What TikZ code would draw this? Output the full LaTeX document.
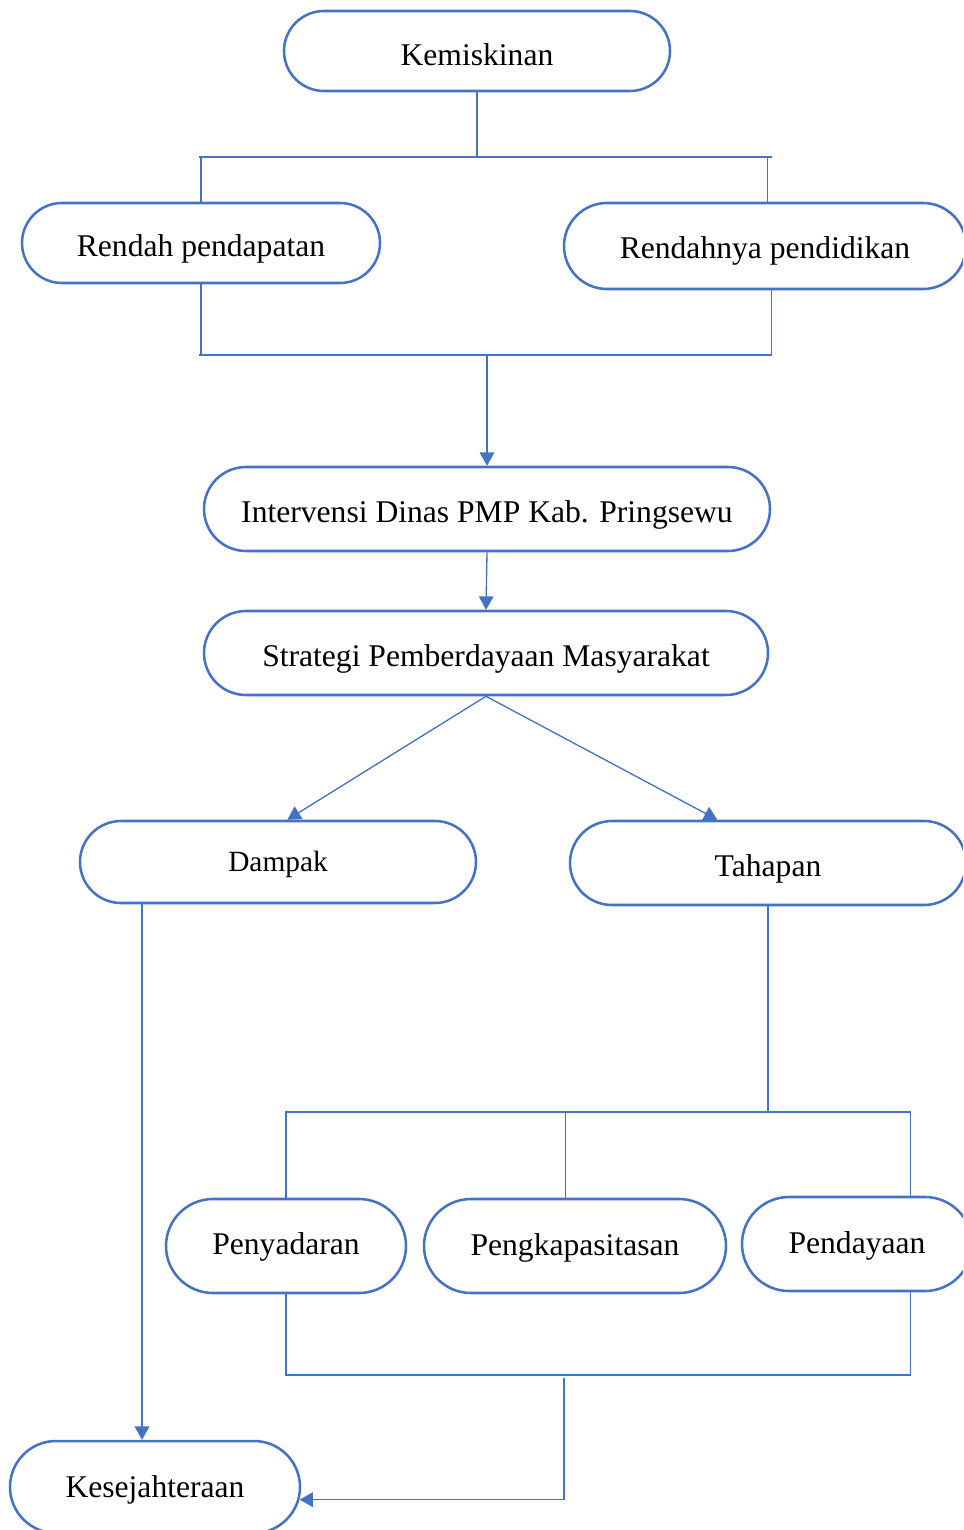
\documentclass[tikz,border=0pt]{standalone}
\usepackage{fontspec}
\setmainfont{Liberation Serif}
\usetikzlibrary{arrows.meta,shapes.misc}
\definecolor{boxblue}{RGB}{68,114,196}

\begin{document}
\begin{tikzpicture}[
  x=0.75pt,y=-0.75pt,
  pill/.style={rounded rectangle, draw=boxblue, line width=1.9pt,
               inner sep=0pt, text height=20.25pt, text depth=0pt,
               font=\fontsize{23.7}{28}\selectfont},
  lowpill/.style={pill, text height=13.8pt},
  link/.style={draw=boxblue, line width=1pt},
  flow/.style={link, -{Triangle[length=10pt,width=11pt]}}
]
\useasboundingbox (0,0) rectangle (963,1530);
\clip (0,0) rectangle (963,1530);

% Problem and its two causes.
\node[pill, minimum width=289.5pt, minimum height=60pt, text height=22pt]
  (km) at (477,51) {Kemiskinan};
\node[pill, minimum width=268.5pt, minimum height=60pt, text height=20.5pt]
  (rp) at (201,243) {Rendah pendapatan};
\node[pill, minimum width=301.5pt, minimum height=64.5pt, text height=19pt]
  (rd) at (765,246) {Rendahnya pendidikan};

\coordinate (splitL) at (199,157);
\coordinate (splitR) at (772,157);
\coordinate (joinL) at (199,355);
\coordinate (joinR) at (772,355);

\draw[link] (km.south) -- (km.south |- splitL);
\draw[link] (splitL) -- (splitR);
\draw[link] (rp.north |- splitL) -- (rp.north);
\draw[link] ([xshift=2pt]rd.north |- splitR) -- ([xshift=2pt]rd.north);
\draw[link] (rp.south) -- (rp.south |- joinL);
\draw[link] ([xshift=5pt]rd.south) -- ([xshift=5pt]rd.south |- joinR);
\draw[link] (joinL) -- (joinR);

% Intervention and strategy.
\node[pill, minimum width=424.5pt, minimum height=63pt] (iv) at (487,509)
  {Intervensi Dinas PMP Kab. Pringsewu};
\node[pill, minimum width=423pt, minimum height=63pt] (sg) at (486,653)
  {Strategi Pemberdayaan Masyarakat};

\draw[flow] (iv.north |- joinL) -- (iv.north);
\draw[flow] (iv.south) -- (sg.north);

% Two branches of the strategy.
\node[pill, minimum width=297pt, minimum height=61.5pt, text height=14.6pt,
      font=\fontsize{22}{26}\selectfont] (dp) at (278,862) {Dampak};
\node[pill, minimum width=297pt, minimum height=63pt] (th) at (768,863)
  {Tahapan};

\draw[flow] (sg.south) -- ([xshift=7pt]dp.north);
\draw[flow] (sg.south) -- ([xshift=-38pt]th.north);

% Stages.
\node[lowpill, minimum width=180pt, minimum height=70.5pt, text height=12.5pt]
  (py) at (286,1246) {Penyadaran};
\node[lowpill, minimum width=226.5pt, minimum height=70.5pt] (pk) at (575,1246)
  {Pengkapasitasan};
\node[lowpill, minimum width=172.5pt, minimum height=70.5pt] (pd) at (857,1244)
  {Pendayaan};

\coordinate (fanL) at (285,1112);
\coordinate (fanR) at (911,1112);
\coordinate (fuseL) at (285,1375);
\coordinate (fuseR) at (911,1375);
\coordinate (fuseM) at (564,1378);

\draw[link] (th.south) -- (th.south |- fanL);
\draw[link] (fanL) -- (fanR);
\draw[link] (py.north |- fanL) -- (py.north);
\draw[link] ([xshift=-7pt]pk.north |- fanL) -- ([xshift=-7pt]pk.north);
\draw[link] ([xshift=40pt]pd.north |- fanR) -- ([xshift=40pt]pd.north);
\draw[link] (py.south) -- (py.south |- fuseL);
\draw[link] ([xshift=40pt]pd.south) -- ([xshift=40pt]pd.south |- fuseR);
\draw[link] (fuseL) -- (fuseR);

% Outcome.
\node[lowpill, minimum width=217.5pt, minimum height=69pt, text height=15.75pt]
  (ks) at (155,1487) {Kesejahteraan};

\coordinate (drop) at (142,1000);
\draw[flow] (dp.south -| drop) -- (ks.north -| drop);
\draw[flow] (fuseM) |- (ks.-5);

\end{tikzpicture}
\end{document}
